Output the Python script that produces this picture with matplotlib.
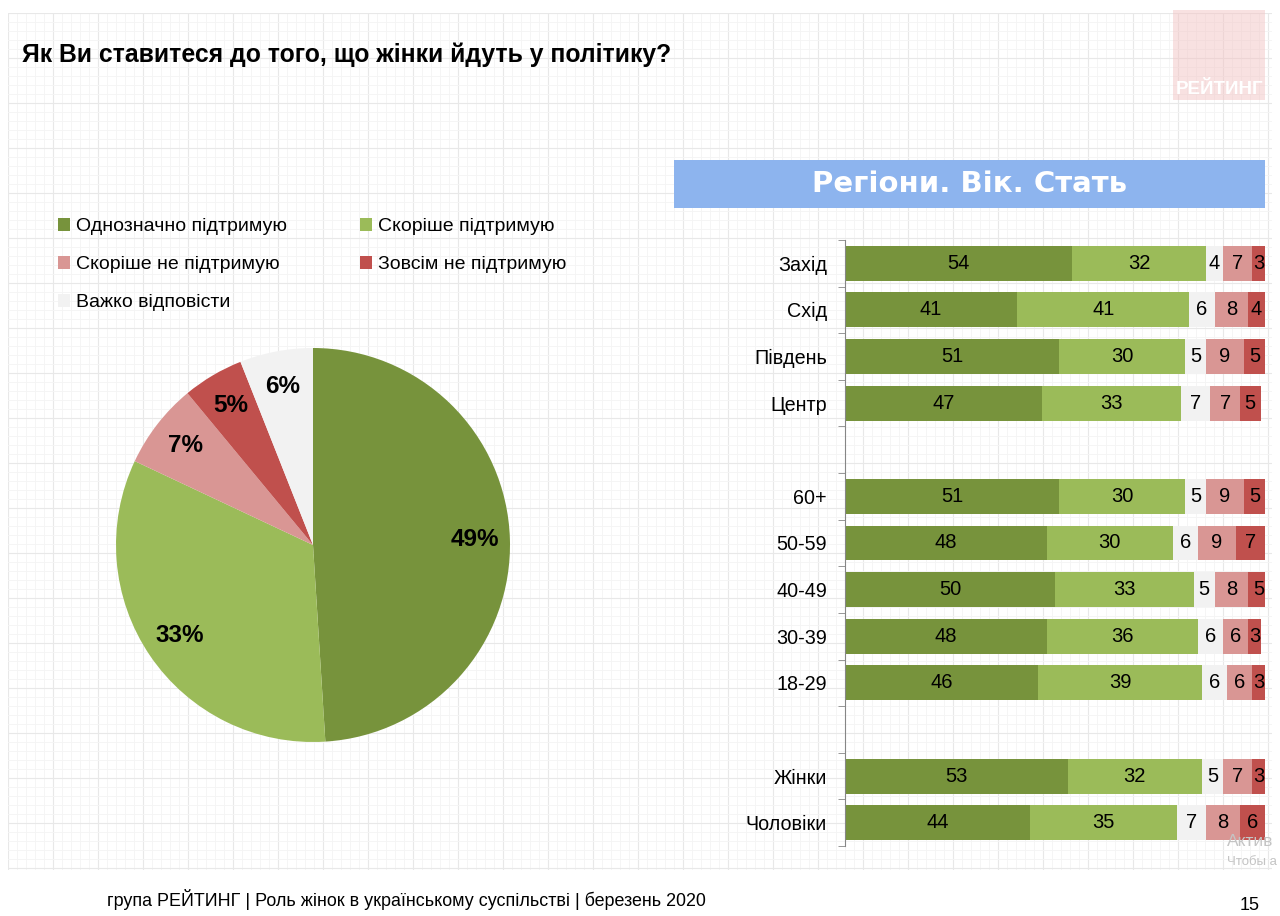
import numpy as np
import matplotlib
matplotlib.use("Agg")
import matplotlib.pyplot as plt
from matplotlib.patches import Rectangle

plt.rcParams['font.family'] = ['Liberation Sans', 'DejaVu Sans']

W, H = 1280, 916

# --- data ---
answers = ["Однозначно підтримую", "Скоріше підтримую", "Скоріше не підтримую",
           "Зовсім не підтримую", "Важко відповісти"]
colors = ["#77933C", "#9BBB59", "#D99694", "#C0504D", "#F2F2F2"]
total = [49, 33, 7, 5, 6]

# order of segments in the bars: yes, rather yes, hard to say, rather no, no
bar_order = [0, 1, 4, 2, 3]
groups = ["Захід", "Схід", "Південь", "Центр", "",
          "60+", "50-59", "40-49", "30-39", "18-29", "",
          "Жінки", "Чоловіки"]
strongly_yes = [54, 41, 51, 47, None, 51, 48, 50, 48, 46, None, 53, 44]
rather_yes = [32, 41, 30, 33, None, 30, 30, 33, 36, 39, None, 32, 35]
hard_to_say = [4, 6, 5, 7, None, 5, 6, 5, 6, 6, None, 5, 7]
rather_no = [7, 8, 9, 7, None, 9, 9, 8, 6, 6, None, 7, 8]
strongly_no = [3, 4, 5, 5, None, 5, 7, 5, 3, 3, None, 3, 6]


def fx(x):
    return x / W


def fy(y):
    return 1 - y / H


fig = plt.figure(figsize=(W / 100, H / 100), dpi=100)

# graph-paper background
bg = fig.add_axes([fx(8), fy(870), (1272 - 8) / W, (870 - 13) / H], zorder=-5)
bg.set_xlim(8, 1272)
bg.set_ylim(870, 13)
bg.set_xticks(np.arange(8, 1272, 45))
bg.set_yticks(np.arange(13, 870, 45))
bg.set_xticks(np.arange(8, 1272, 9), minor=True)
bg.set_yticks(np.arange(13, 870, 9), minor=True)
bg.grid(which="major", color="#E8E8E8", lw=0.8)
bg.grid(which="minor", color="#F4F4F4", lw=0.6)
bg.tick_params(which="both", length=0, labelleft=False, labelbottom=False)
for s in bg.spines.values():
    s.set_visible(False)

# title
fig.text(fx(22), fy(55), "Як Ви ставитеся до того, що жінки йдуть у політику?",
         fontsize=17.8, fontweight="bold", ha="left", va="center")

# logo
fig.patches.append(Rectangle((fx(1173), fy(100)), 92 / W, 90 / H, transform=fig.transFigure,
                             facecolor="#F2C4C4", alpha=0.5, edgecolor="none", zorder=1))
fig.text(fx(1220), fy(89), "РЕЙТИНГ", fontsize=13.5, fontweight="bold", color="white",
         ha="center", va="center", zorder=2)

# pie
pax = fig.add_axes([fx(116), fy(742), 394 / W, 394 / H])
wedges, _, autotexts = pax.pie(total, colors=colors, startangle=90, counterclock=False,
                               autopct=lambda p: f"{p:.0f}%", pctdistance=0.82,
                               textprops=dict(fontsize=17.5, fontweight="bold"))
pax.set_xlim(-1, 1)
pax.set_ylim(-1, 1)

# legend (column-major fill, so reorder to get row-wise layout)
leg_idx = [0, 2, 4, 1, 3]
fig.legend([wedges[i] for i in leg_idx], [answers[i] for i in leg_idx],
           loc="upper left", bbox_to_anchor=(fx(58), fy(218)), ncol=2, frameon=False,
           fontsize=14, handlelength=0.62, handleheight=0.62, handletextpad=0.3,
           labelspacing=1.08, columnspacing=3.75, borderpad=0, borderaxespad=0)

# banner
fig.patches.append(Rectangle((fx(674), fy(208)), (1265 - 674) / W, 48 / H,
                             transform=fig.transFigure, facecolor="#8DB4EE",
                             edgecolor="none", zorder=1))
fig.text(fx(970), fy(184), "Регіони. Вік. Стать", family="DejaVu Sans", fontsize=21,
         fontweight="heavy", color="white", ha="center", va="center", zorder=2)

# stacked bars
bax = fig.add_axes([fx(845), fy(846), 420 / W, 606 / H])
series = [strongly_yes, rather_yes, rather_no, strongly_no, hard_to_say]
for i, name in enumerate(groups):
    if strongly_yes[i] is None:
        continue
    left = 0
    for k in bar_order:
        v = series[k][i]
        bax.barh(i, v, left=left, height=0.75, color=colors[k], edgecolor="none")
        bax.text(left + v / 2, i, str(v), ha="center", va="center", fontsize=14.5)
        left += v

bax.set_xlim(0, 100)
bax.set_ylim(len(groups) - 0.5, -0.5)
bax.set_yticks(range(len(groups)))
bax.set_yticklabels(groups, fontsize=14.2)
bax.set_yticks(np.arange(-0.5, len(groups), 1), minor=True)
bax.tick_params(axis="y", which="major", length=0, pad=13)
bax.tick_params(axis="y", which="minor", length=5, color="#868686", direction="out")
bax.set_xticks([])
for s in ["top", "right", "bottom"]:
    bax.spines[s].set_visible(False)
bax.spines["left"].set_color("#868686")
bax.patch.set_alpha(0)

# windows watermark (only the visible part)
fig.text(fx(1227), fy(842), "Актив", fontsize=12.5, color="#C4C4C4",
         ha="left", va="center")
fig.text(fx(1227), fy(862), "Чтобы а", fontsize=9.5,
         color="#C4C4C4", ha="left", va="center")

# footer
fig.text(fx(107), fy(900), "група РЕЙТИНГ | Роль жінок в українському суспільстві | березень 2020",
         fontsize=12.9, ha="left", va="center")
fig.text(fx(1250), fy(905), "15", fontsize=13, ha="center", va="center")

fig.savefig("out.png", dpi=100)
